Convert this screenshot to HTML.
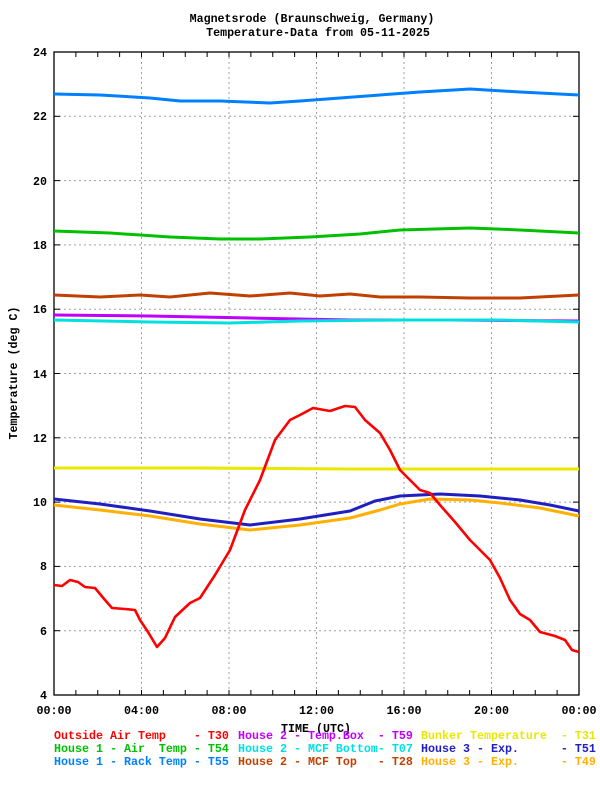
<!DOCTYPE html>
<html><head><meta charset="utf-8"><style>
body{margin:0;background:#fff;}
svg{display:block;}
text{font-family:"Liberation Mono",monospace;font-weight:bold;font-size:11.67px;white-space:pre;}
</style></head><body>
<svg width="600" height="800" xmlns="http://www.w3.org/2000/svg">
<rect width="600" height="800" fill="#fff"/>
<text x="312" y="22" text-anchor="middle">Magnetsrode (Braunschweig, Germany)</text>
<text x="318" y="36" text-anchor="middle">Temperature-Data from 05-11-2025</text>
<g stroke="#a0a0a0" stroke-dasharray="2,3" stroke-width="1">
<line x1="54" y1="116.3" x2="579" y2="116.3"/><line x1="54" y1="180.6" x2="579" y2="180.6"/>
<line x1="54" y1="244.9" x2="579" y2="244.9"/><line x1="54" y1="309.2" x2="579" y2="309.2"/>
<line x1="54" y1="373.5" x2="579" y2="373.5"/><line x1="54" y1="437.8" x2="579" y2="437.8"/>
<line x1="54" y1="502.1" x2="579" y2="502.1"/><line x1="54" y1="566.4" x2="579" y2="566.4"/>
<line x1="54" y1="630.7" x2="579" y2="630.7"/>
<line x1="141.5" y1="52" x2="141.5" y2="695"/><line x1="229" y1="52" x2="229" y2="695"/>
<line x1="316.5" y1="52" x2="316.5" y2="695"/><line x1="404" y1="52" x2="404" y2="695"/>
<line x1="491.5" y1="52" x2="491.5" y2="695"/>
</g>
<g id="ticks" stroke="#000" stroke-width="1"></g>
<rect x="54" y="52" width="525" height="643" fill="none" stroke="#000" stroke-width="1.3"/>
<g text-anchor="end">
<text x="47" y="56">24</text><text x="47" y="120">22</text><text x="47" y="185">20</text>
<text x="47" y="249">18</text><text x="47" y="313">16</text><text x="47" y="378">14</text>
<text x="47" y="442">12</text><text x="47" y="506">10</text><text x="47" y="570">8</text>
<text x="47" y="635">6</text><text x="47" y="699">4</text>
</g>
<g text-anchor="middle">
<text x="54" y="714">00:00</text><text x="141.5" y="714">04:00</text><text x="229" y="714">08:00</text>
<text x="316.5" y="714">12:00</text><text x="404" y="714">16:00</text><text x="491.5" y="714">20:00</text>
<text x="579" y="714">00:00</text>
<text x="316" y="732">TIME (UTC)</text>
</g>
<text transform="translate(17,373) rotate(-90)" text-anchor="middle">Temperature (deg C)</text>
<g fill="none" stroke-width="3" stroke-linejoin="round">
<polyline stroke="#0080ff" points="54,94 100,95 150,98 180,101 220,101 270,103 300,101 340,98 380,95 420,92 470,89 520,92 579,95"/>
<polyline stroke="#00c000" points="54,231 110,233 170,237 220,239 260,239 310,237 360,234 400,230 470,228 520,230 579,233"/>
<polyline stroke="#c04000" points="54,295 100,297 140,295 170,297 210,293 250,296 290,293 320,296 350,294 380,297 420,297 470,298 520,298 579,295"/>
<polyline stroke="#c000ff" points="54,315 150,316 250,318 350,320 450,320 579,321"/>
<polyline stroke="#00e0e0" points="54,320 150,322 230,323 300,321 400,320 500,320 579,322"/>
<polyline stroke="#e8e800" points="54,468 200,468 350,469 579,469"/>
<polyline stroke="#ffb000" points="54,505 100,510 150,516 200,524 250,530 300,525 350,518 380,510 400,504 430,499 470,500 500,503 540,508 579,516"/>
<polyline stroke="#2020c0" points="54,499 100,504 150,511 200,519 250,525 300,519 350,511 375,501 400,496 440,494 480,496 520,500 550,505 579,511"/>
<polyline stroke="#ff0000" stroke-width="2.6" points="54,585 62,586 70,580 78,582 85,587 95,588 105,600 112,608 125,609 135,610 140,620 148,632 157,647 165,638 175,617 190,603 200,598 215,575 230,550 245,510 260,480 275,440 290,420 300,415 313,408 330,411 345,406 355,407 365,420 380,433 390,450 400,470 410,480 420,490 430,493 440,505 455,522 470,540 480,550 490,560 500,578 510,600 520,614 530,620 540,632 555,636 565,640 572,650 579,652"/>
</g>
<text x="54" y="739" fill="#ff0000">Outside Air Temp    - T30</text>
<text x="238" y="739" fill="#c000ff">House 2 - Temp.Box  - T59</text>
<text x="421" y="739" fill="#e8e800">Bunker Temperature  - T31</text>
<text x="54" y="752" fill="#00c000">House 1 - Air  Temp - T54</text>
<text x="238" y="752" fill="#00e0e0">House 2 - MCF Bottom- T07</text>
<text x="421" y="752" fill="#2020c0">House 3 - Exp.      - T51</text>
<text x="54" y="765" fill="#0080ff">House 1 - Rack Temp - T55</text>
<text x="238" y="765" fill="#c04000">House 2 - MCF Top   - T28</text>
<text x="421" y="765" fill="#ffb000">House 3 - Exp.      - T49</text>
</svg>
<script>
var g=document.getElementById('ticks'),s='';
for(var h=1;h<24;h++){var x=54+h*21.875;s+='<line x1="'+x+'" y1="52" x2="'+x+'" y2="57"/><line x1="'+x+'" y1="690" x2="'+x+'" y2="695"/>';}
for(var d=0;d<=10;d++){var y=52+d*64.3;s+='<line x1="54" y1="'+y+'" x2="60" y2="'+y+'"/><line x1="573" y1="'+y+'" x2="579" y2="'+y+'"/>';}
g.innerHTML=s;
</script>
</body></html>
